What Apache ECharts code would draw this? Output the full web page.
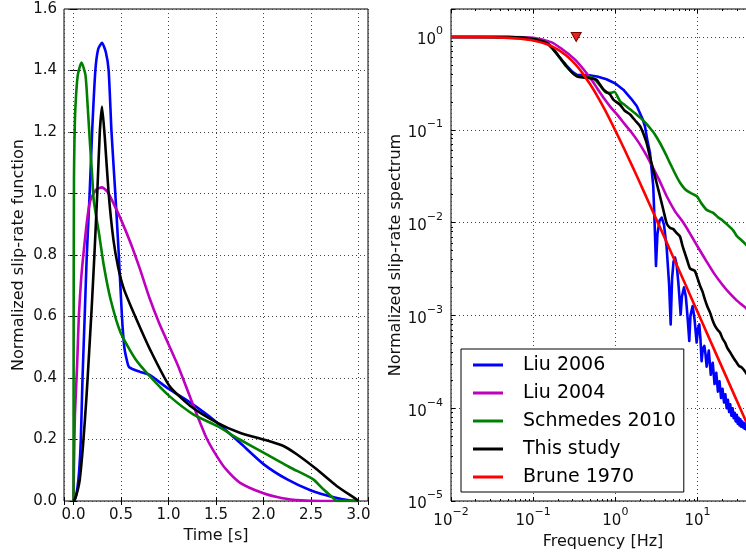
<!DOCTYPE html>
<html><head><meta charset="utf-8">
<script src="https://cdn.jsdelivr.net/npm/echarts@6/dist/echarts.min.js"></script>
<style>html,body{margin:0;padding:0;background:#fff}#c{width:746px;height:556px}</style>
</head><body><div id="c"></div>
<script>
// ---------- names / colours ----------
const seriesNames = ['Liu 2006', 'Liu 2004', 'Schmedes 2010', 'This study', 'Brune 1970'];
const seriesColors = ['#0000ff', '#bf00bf', '#008000', '#000000', '#ff0000'];

// ---------- left panel: normalized slip-rate function [time s, value] ----------
const srfLiu2006 = [[0,0],[0.02,0.01],[0.04,0.04],[0.06,0.1],[0.077,0.2],[0.095,0.4],[0.12,0.62],[0.14,0.8],[0.17,1.0],[0.196,1.2],[0.23,1.4],[0.26,1.47],[0.3,1.49],[0.34,1.46],[0.37,1.4],[0.4,1.2],[0.44,1.0],[0.477,0.8],[0.51,0.6],[0.535,0.5],[0.56,0.46],[0.586,0.435],[0.7,0.42],[0.8,0.41],[1.0,0.365],[1.23,0.32],[1.5,0.258],[1.75,0.19],[2.0,0.12],[2.25,0.07],[2.5,0.034],[2.75,0.011],[2.9,0.002],[3.0,0]];
const srfLiu2004 = [[0,0],[0.005,0.12],[0.015,0.28],[0.038,0.44],[0.056,0.6],[0.08,0.72],[0.11,0.82],[0.15,0.93],[0.18,0.98],[0.24,1.013],[0.3,1.02],[0.36,1.005],[0.41,0.975],[0.5,0.915],[0.6,0.84],[0.7,0.754],[0.8,0.66],[0.9,0.58],[1.0,0.51],[1.1,0.44],[1.2,0.36],[1.3,0.28],[1.4,0.205],[1.5,0.15],[1.6,0.105],[1.75,0.06],[2.0,0.025],[2.2,0.009],[2.4,0.002],[2.6,0],[3.0,0]];
const srfSchmedes2010 = [[0,0],[0.002,0.7],[0.005,1.05],[0.01,1.17],[0.02,1.28],[0.045,1.385],[0.084,1.426],[0.126,1.385],[0.15,1.28],[0.172,1.17],[0.196,1.06],[0.214,0.975],[0.267,0.873],[0.32,0.764],[0.39,0.656],[0.495,0.548],[0.653,0.461],[0.8,0.407],[1.01,0.341],[1.26,0.282],[1.51,0.244],[1.75,0.2],[2.0,0.157],[2.28,0.109],[2.52,0.071],[2.63,0.038],[2.74,0.008],[2.77,0],[3.0,0]];
const srfThisStudy = [[0,0],[0.014,0.005],[0.04,0.03],[0.066,0.07],[0.1,0.18],[0.137,0.34],[0.16,0.46],[0.19,0.62],[0.22,0.8],[0.25,1.0],[0.277,1.2],[0.3,1.283],[0.33,1.18],[0.37,1.0],[0.42,0.85],[0.47,0.76],[0.53,0.69],[0.65,0.6],[0.81,0.49],[1.01,0.374],[1.23,0.309],[1.51,0.255],[1.75,0.222],[2.0,0.2],[2.21,0.179],[2.35,0.152],[2.56,0.103],[2.77,0.049],[2.98,0.005],[3.0,0]];

// ---------- right panel: normalized slip-rate spectrum [frequency Hz, value] ----------
const specLiu2006 = [[0.01,1],[0.03,1],[0.06,0.99],[0.1,0.96],[0.146,0.87],[0.176,0.75],[0.21,0.6],[0.255,0.49],[0.3,0.42],[0.34,0.39],[0.42,0.385],[0.5,0.385],[0.6,0.375],[0.78,0.35],[1.0,0.315],[1.25,0.27],[1.55,0.217],[1.82,0.18],[2.15,0.13],[2.29,0.109],[2.47,0.074],[2.64,0.056],[2.89,0.0247],[3.03,0.0078],[3.12,0.0034],[3.25,0.0075],[3.45,0.0105],[3.66,0.0113],[3.9,0.0095],[4.2,0.0055],[4.5,0.0022],[4.71,0.0008],[4.9,0.0025],[5.1,0.0038],[5.31,0.0042],[5.55,0.0036],[5.85,0.0022],[6.23,0.00102],[6.45,0.0016],[6.84,0.002],[7.2,0.0016],[7.6,0.0009],[7.93,0.00053],[8.2,0.001],[8.72,0.00126],[9.2,0.0009],[9.75,0.00051],[10.1,0.00072],[10.5,0.0008],[10.85,0.00055],[11.2,0.00032],[11.6,0.00044],[12.1,0.00047],[12.5,0.00038],[12.9,0.00028],[13.7,0.000417],[14.5,0.000229],[15.3,0.000309],[16.1,0.000182],[16.9,0.00024],[17.7,0.000151],[18.5,0.000195],[19.3,0.000129],[20.1,0.000162],[21.0,0.000115],[21.8,0.000141],[22.6,0.0001],[23.4,0.000123],[24.2,0.000091],[25.0,0.00011],[25.8,0.000083],[26.7,0.0001],[27.5,0.000078],[28.3,0.000089],[29.1,0.000072],[30.0,0.000085],[30.8,0.000068],[31.6,0.000079],[32.4,0.000065],[33.2,0.000076],[34.0,0.000063],[34.9,0.000072],[35.7,0.000062],[36.5,0.000069],[37.3,0.00006],[38.1,0.000068],[39.0,0.000059],[40.0,0.000065],[45,0.000055]];
const specLiu2004 = [[0.01,1],[0.05,0.998],[0.1,0.98],[0.165,0.88],[0.22,0.75],[0.316,0.58],[0.4,0.46],[0.5,0.356],[0.6,0.28],[0.73,0.217],[0.9,0.17],[1.07,0.143],[1.3,0.115],[1.55,0.095],[1.9,0.074],[2.25,0.058],[2.71,0.043],[3.4,0.029],[4.21,0.0192],[5.3,0.0133],[6.7,0.01],[8.1,0.0076],[10.7,0.005],[12.9,0.0038],[16,0.0028],[20.4,0.0021],[25,0.0017],[29.9,0.00145],[34,0.00132],[38.8,0.0012],[45,0.00105]];
const specSchmedes2010 = [[0.01,1],[0.05,0.995],[0.1,0.95],[0.146,0.86],[0.176,0.73],[0.21,0.6],[0.255,0.48],[0.3,0.41],[0.34,0.38],[0.42,0.37],[0.48,0.37],[0.55,0.355],[0.65,0.3],[0.78,0.25],[0.88,0.25],[0.97,0.257],[1.14,0.203],[1.3,0.185],[1.51,0.166],[1.75,0.15],[2.0,0.135],[2.3,0.12],[2.62,0.105],[3.0,0.09],[3.49,0.072],[4.0,0.057],[4.6,0.044],[5.3,0.034],[6.1,0.027],[7.0,0.023],[8.1,0.021],[9.8,0.0192],[11.2,0.016],[12.9,0.0137],[15.5,0.0127],[18,0.0113],[20,0.0106],[23,0.0095],[27,0.0083],[29.9,0.0072],[34,0.0065],[38.8,0.0058],[45,0.005]];
const specThisStudy = [[0.01,1],[0.05,0.995],[0.1,0.95],[0.146,0.86],[0.176,0.73],[0.21,0.6],[0.255,0.48],[0.3,0.41],[0.34,0.377],[0.4,0.365],[0.45,0.363],[0.52,0.355],[0.59,0.346],[0.65,0.307],[0.72,0.27],[0.78,0.255],[0.86,0.24],[0.95,0.21],[1.14,0.186],[1.3,0.16],[1.51,0.146],[1.75,0.125],[2.0,0.109],[2.2,0.09],[2.4,0.072],[2.65,0.05],[2.89,0.037],[3.2,0.026],[3.49,0.0192],[3.85,0.0135],[4.21,0.0098],[4.6,0.0088],[5.07,0.0085],[5.5,0.0078],[6.1,0.0071],[6.5,0.0058],[7.0,0.0047],[7.5,0.0039],[8.1,0.0032],[8.7,0.0031],[9.3,0.003],[10.0,0.0025],[10.7,0.0021],[11.5,0.0018],[12.3,0.00148],[13.2,0.00124],[14.2,0.00107],[15.2,0.00089],[16.3,0.00077],[17.5,0.0007],[18.8,0.00065],[20.2,0.00056],[21.6,0.00051],[23.2,0.00044],[24.9,0.0004],[27.3,0.00035],[29.9,0.00031],[32,0.000285],[34.5,0.000275],[36.5,0.00026],[38.8,0.00024],[45,0.0002]];
const specBrune1970 = [[0.01,0.999],[0.03,0.992],[0.05,0.978],[0.07,0.957],[0.1,0.916],[0.15,0.829],[0.2,0.731],[0.25,0.635],[0.3,0.548],[0.35,0.471],[0.4,0.405],[0.5,0.303],[0.6,0.232],[0.7,0.182],[0.85,0.131],[1.0,0.098],[1.3,0.0605],[1.6,0.0408],[2.0,0.0265],[2.5,0.0171],[3.2,0.0105],[4,0.0068],[5,0.00434],[6.5,0.00258],[8,0.0017],[10,0.00109],[13,0.000644],[16,0.000425],[20,0.000272],[25,0.000174],[32,0.000106],[40,0.0000681],[50,0.0000436]];
const cornerMarker = [[0.334, 1.0]];

// ---------- ticks ----------
const freqMinorTicks = [0.02,0.03,0.04,0.05,0.06,0.07,0.08,0.09,0.2,0.3,0.4,0.5,0.6,0.7,0.8,0.9,2,3,4,5,6,7,8,9,20,30,40];
const specMinorTicks = [2e-5,3e-5,4e-5,5e-5,6e-5,7e-5,8e-5,9e-5,2e-4,3e-4,4e-4,5e-4,6e-4,7e-4,8e-4,9e-4,2e-3,3e-3,4e-3,5e-3,6e-3,7e-3,8e-3,9e-3,0.02,0.03,0.04,0.05,0.06,0.07,0.08,0.09,0.2,0.3,0.4,0.5,0.6,0.7,0.8,0.9];

const FONT = 'DejaVu Sans';
const TXT = '#111';
const labelStyle = { color: TXT, fontFamily: FONT, fontSize: 15 };
const nameStyle = { color: TXT, fontFamily: FONT, fontSize: 16 };
const gridLine = { show: true, lineStyle: { color: '#444', width: 1, type: [1, 3] } };
const majorTick = { show: true, inside: true, length: 4, lineStyle: { color: '#000', width: 1 } };
const noLine = { show: false };
function sci(v) {
  const e = Math.round(Math.log10(v));
  return '{b|10}{s|' + (e < 0 ? '\u2212' : '') + Math.abs(e) + '}';
}
const sciRich = {
  b: { fontFamily: FONT, fontSize: 15, color: TXT, lineHeight: 22, verticalAlign: 'bottom' },
  s: { fontFamily: FONT, fontSize: 11, color: TXT, lineHeight: 12, verticalAlign: 'top' }
};

const gridBase = { top: 9, width: 304, height: 492, show: true, borderColor: '#000', borderWidth: 1,
  backgroundColor: 'transparent', containLabel: false, outerBoundsMode: 'none' };

const option = {
  animation: false,
  backgroundColor: '#fff',
  grid: [
    Object.assign({ left: 64 }, gridBase),
    Object.assign({ left: 451 }, gridBase)
  ],
  xAxis: [
    { type: 'value', gridIndex: 0, position: 'bottom', min: -0.1, max: 3.1,
      axisLine: noLine, axisTick: majorTick, splitLine: gridLine,
      axisLabel: Object.assign({ margin: 7, formatter: v => (v < -1e-9 || v > 3.0001) ? '' : v.toFixed(1) }, labelStyle),
      name: 'Time [s]', nameLocation: 'middle', nameGap: 22, nameTextStyle: nameStyle },
    { type: 'value', gridIndex: 0, position: 'top', min: -0.1, max: 3.1,
      axisLine: noLine, axisTick: majorTick, splitLine: noLine, axisLabel: noLine },
    { type: 'log', logBase: 10, gridIndex: 1, position: 'bottom', min: 0.01, max: 50,
      axisLine: noLine, axisTick: majorTick, splitLine: gridLine,
      axisLabel: { margin: 6, formatter: v => v > 20 ? '' : sci(v), rich: sciRich },
      name: 'Frequency [Hz]', nameLocation: 'middle', nameGap: 32, nameTextStyle: nameStyle },
    { type: 'log', logBase: 10, gridIndex: 1, position: 'top', min: 0.01, max: 50,
      axisLine: noLine, axisTick: majorTick, splitLine: noLine, axisLabel: noLine },
    { type: 'log', logBase: 10, gridIndex: 1, position: 'bottom', min: 0.01, max: 50,
      axisLine: noLine, splitLine: noLine, axisLabel: noLine,
      axisTick: { show: true, inside: true, length: 2, customValues: freqMinorTicks, lineStyle: { color: '#000', width: 1 } } },
    { type: 'log', logBase: 10, gridIndex: 1, position: 'top', min: 0.01, max: 50,
      axisLine: noLine, splitLine: noLine, axisLabel: noLine,
      axisTick: { show: true, inside: true, length: 2, customValues: freqMinorTicks, lineStyle: { color: '#000', width: 1 } } }
  ],
  yAxis: [
    { type: 'value', gridIndex: 0, position: 'left', min: 0, max: 1.6, interval: 0.2,
      axisLine: noLine, axisTick: majorTick, splitLine: gridLine,
      axisLabel: Object.assign({ margin: 7, formatter: v => v.toFixed(1) }, labelStyle),
      name: 'Normalized slip-rate function', nameLocation: 'middle', nameGap: 37, nameTextStyle: nameStyle },
    { type: 'value', gridIndex: 0, position: 'right', min: 0, max: 1.6, interval: 0.2,
      axisLine: noLine, axisTick: majorTick, splitLine: noLine, axisLabel: noLine },
    { type: 'log', logBase: 10, gridIndex: 1, position: 'left', min: 1e-5, max: 2,
      axisLine: noLine, axisTick: majorTick, splitLine: gridLine,
      axisLabel: { margin: 8, formatter: v => v > 1.5 ? '' : sci(v), rich: sciRich },
      name: 'Normalized slip-rate spectrum', nameLocation: 'middle', nameGap: 47, nameTextStyle: nameStyle },
    { type: 'log', logBase: 10, gridIndex: 1, position: 'left', min: 1e-5, max: 2,
      axisLine: noLine, splitLine: noLine, axisLabel: noLine,
      axisTick: { show: true, inside: true, length: 2, customValues: specMinorTicks, lineStyle: { color: '#000', width: 1 } } }
  ],
  legend: {
    data: seriesNames, orient: 'vertical', left: 461, top: 349,
    padding: [6, 8, 5, 12], itemGap: 8, itemWidth: 30, itemHeight: 3, icon: 'rect',
    backgroundColor: '#fff', borderColor: '#000', borderWidth: 1, borderRadius: 0,
    selectedMode: false, z: 20,
    formatter: n => '{g| }' + n,
    textStyle: { fontFamily: FONT, fontSize: 19, color: '#000', lineHeight: 20, rich: { g: { width: 15 } } }
  },
  series: []
};

const srfData = [srfLiu2006, srfLiu2004, srfSchmedes2010, srfThisStudy];
srfData.forEach((d, i) => {
  option.series.push({ type: 'line', name: seriesNames[i], xAxisIndex: 0, yAxisIndex: 0, data: d,
    symbol: 'none', smooth: 0.2, z: 3 + i,
    lineStyle: { color: seriesColors[i], width: 2.6, join: 'round' }, itemStyle: { color: seriesColors[i] } });
});
const specData = [specLiu2006, specLiu2004, specSchmedes2010, specThisStudy, specBrune1970];
specData.forEach((d, i) => {
  option.series.push({ type: 'line', name: seriesNames[i], xAxisIndex: 2, yAxisIndex: 2, data: d,
    symbol: 'none', smooth: i === 0 ? false : 0.2, z: 3 + i,
    lineStyle: { color: seriesColors[i], width: 2.6, join: 'round' }, itemStyle: { color: seriesColors[i] } });
});
option.series.push({ type: 'scatter', name: 'corner', xAxisIndex: 2, yAxisIndex: 2, data: cornerMarker,
  symbol: 'triangle', symbolRotate: 180, symbolSize: [10, 9], z: 10,
  itemStyle: { color: '#e8251a', opacity: 1, borderColor: '#7a0000', borderWidth: 1 } });

const chart = echarts.init(document.getElementById('c'), null, { renderer: 'canvas' });
chart.setOption(option);
</script></body></html>
